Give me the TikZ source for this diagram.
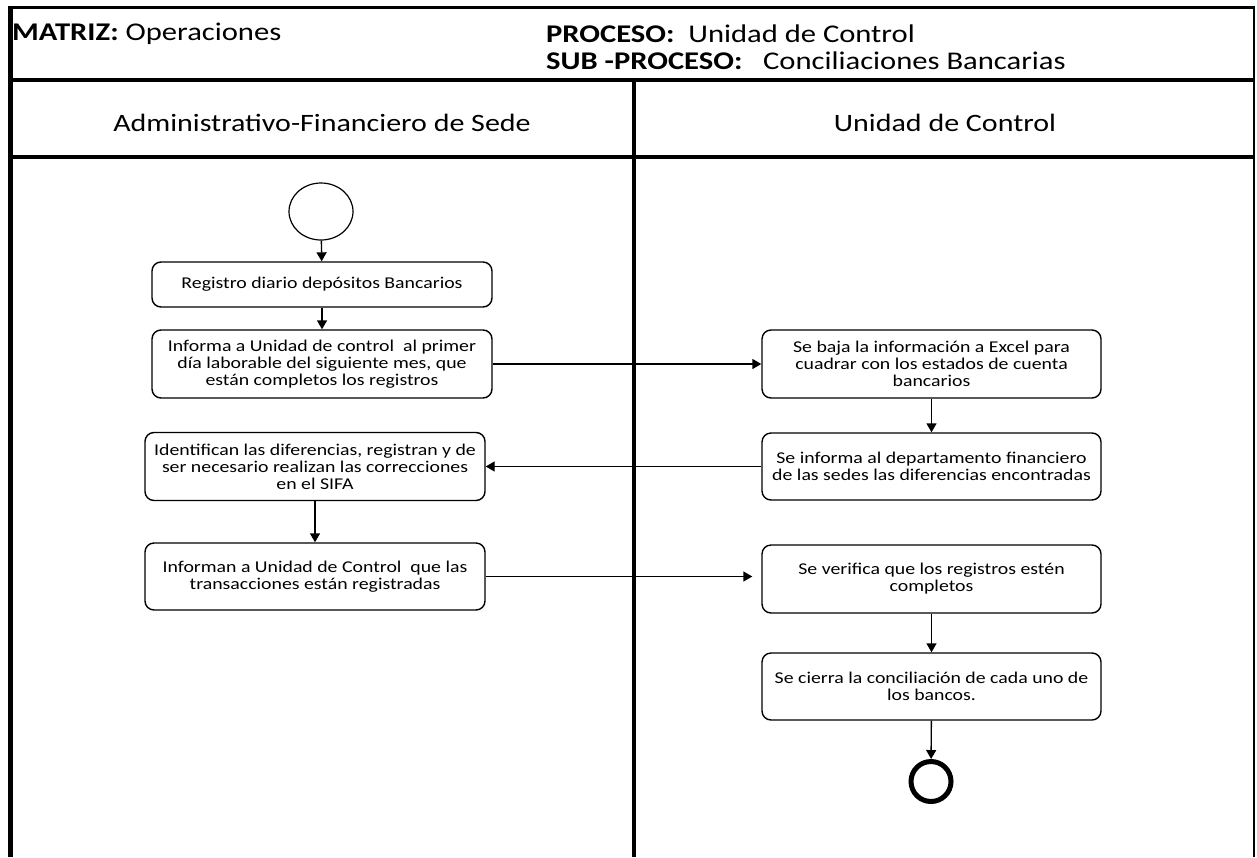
\documentclass[tikz,border=0pt]{standalone}
\usepackage{fontspec}
\setmainfont{Carlito}[FakeStretch=1.2]
\usetikzlibrary{shapes.geometric,arrows.meta}
\begin{document}
\begin{tikzpicture}[x=1pt,y=-1pt,
  box/.style={draw,line width=1.4pt,rounded corners=9pt,align=center,inner sep=2pt,
    font=\fontsize{16.5}{17}\selectfont},
  hdr/.style={anchor=west,inner sep=0pt,font=\fontsize{25.5}{28}\selectfont},
  lane/.style={inner sep=0pt,font=\fontsize{25}{28}\selectfont},
  arr/.style={line width=1.4pt,-{Triangle[length=9pt,width=10pt]}}]
\useasboundingbox (0,0) rectangle (1257,857);
% frame
\draw[line width=3pt] (9,7) -- (1253,7);
\draw[line width=5pt] (10,5.5) -- (10,857);
\draw[line width=2.5pt] (1254,5.5) -- (1254,857);
\draw[line width=4pt] (9,80) -- (1255,80);
\draw[line width=4pt] (9,157) -- (1255,157);
\draw[line width=4.5pt] (634,80) -- (634,857);
% header text
\node[hdr] (matriz) at (12,34) {\textbf{MATRIZ:} Operaciones};
\node[hdr] (proceso) at (546,34) {\textbf{PROCESO:}\ \ Unidad de Control};
\node[hdr] (sub) at (546,61) {\textbf{SUB -PROCESO:}\ \ \ Conciliaciones Bancarias};
\node[lane] (lane1) at (322,123) {Administrativo-Financiero de Sede};
\node[lane] (lane2) at (945,123) {Unidad de Control};
% nodes
\node[draw,ellipse,line width=1.2pt,minimum width=64pt,minimum height=57pt] (start) at (321,211.5) {};
\node[box,minimum width=340pt,minimum height=45pt] (b1) at (322,284.5) {Registro diario depósitos Bancarios};
\node[box,minimum width=340pt,minimum height=68pt] (b2) at (322,364) {Informa a Unidad de control\ \ al primer\\día laborable del siguiente mes, que\\están completos los registros};
\node[box,minimum width=339pt,minimum height=68pt] (b3) at (931.5,364) {Se baja la información a Excel para\\cuadrar con los estados de cuenta\\bancarios};
\node[box,minimum width=339pt,minimum height=67pt] (b4) at (931.5,466.5) {Se informa al departamento financiero\\de las sedes las diferencias encontradas};
\node[box,minimum width=340pt,minimum height=68pt] (b5) at (315,466.5) {Identifican las diferencias, registran y de\\ser necesario realizan las correcciones\\en el SIFA};
\node[box,minimum width=340pt,minimum height=67pt] (b6) at (315,576.5) {Informan a Unidad de Control\ \ que las\\transacciones están registradas};
\node[box,minimum width=339pt,minimum height=68pt] (b7) at (931.5,579) {Se verifica que los registros estén\\completos};
\node[box,minimum width=339pt,minimum height=67pt] (b8) at (931.5,686.5) {Se cierra la conciliación de cada uno de\\los bancos.};
\node[draw,circle,line width=5pt,minimum size=40pt,inner sep=0pt] (end) at (931,781.5) {};
% connectors
\draw[arr] (start) -- (b1);
\draw[arr] (b1) -- (b2);
\draw[arr] (b2.east) -- (b3.west);
\draw[arr] (b3) -- (b4);
\draw[arr] (b4.west) -- (b5.east);
\draw[arr] (b5) -- (b6);
\draw[arr,shorten >=9pt] (b6.east) -- (b6.east -| b7.west);
\draw[arr] (b7) -- (b8);
\draw[arr] (b8) -- (end);
\end{tikzpicture}
\end{document}
